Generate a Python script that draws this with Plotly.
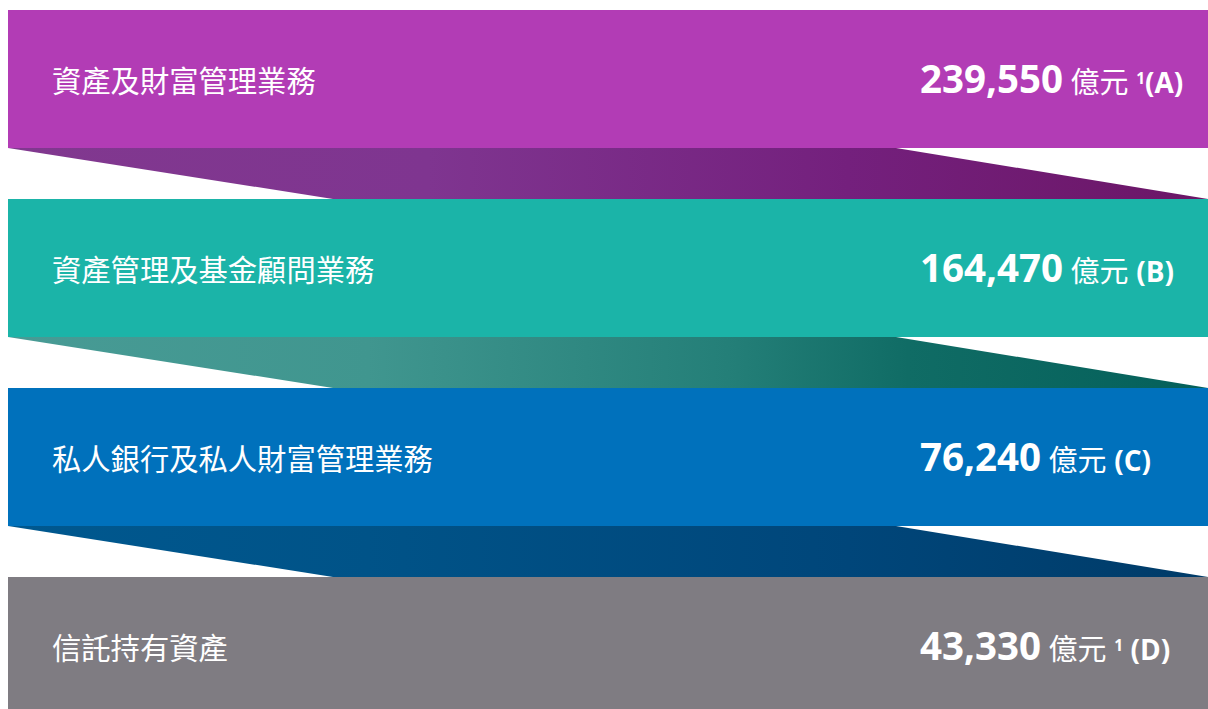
import plotly.graph_objects as go

# ---- data ----
categories = ["資產及財富管理業務", "資產管理及基金顧問業務",
              "私人銀行及私人財富管理業務", "信託持有資產"]
values = [239550, 164470, 76240, 43330]          # 億元
footnotes = ["1", "", "", "1"]
letters = ["A", "B", "C", "D"]
unit = "億元"

# ---- styles ----
band_colors = ["#B23CB5", "#1BB4A8", "#0071BC", "#7F7C82"]
connector_scales = [
    [[0, "#81388F"], [0.35, "#7F3590"], [0.7, "#74207D"], [1, "#6B1666"]],
    [[0, "#489B95"], [0.3, "#40968F"], [0.6, "#247F78"], [0.75, "#106C65"], [1, "#04605A"]],
    [[0, "#00588F"], [0.3, "#005388"], [0.7, "#00467A"], [1, "#003B68"]],
]
W, H = 1208, 709
X0, X1 = 8, 1208
TOP, BAND_H, STEP = 10, 138, 189
SLANT_TOP, SLANT_BOT = 312, 325
FONT = "Open Sans, Noto Sans CJK TC, sans-serif"

fig = go.Figure()

n = len(categories)
for i in range(n):
    y0 = TOP + i * STEP
    y1 = min(y0 + BAND_H, H)
    fig.add_trace(go.Scatter(
        x=[X0, X1, X1, X0, X0], y=[y0, y0, y1, y1, y0],
        fill="toself", fillcolor=band_colors[i], mode="lines",
        line=dict(width=0), hoverinfo="skip", showlegend=False))
    if i < n - 1:
        c0 = y0 + BAND_H
        c1 = TOP + (i + 1) * STEP
        fig.add_trace(go.Scatter(
            x=[X0, X1 - SLANT_TOP, X1, X0 + SLANT_BOT, X0],
            y=[c0, c0, c1, c1, c0],
            fill="toself", mode="lines", line=dict(width=0),
            fillgradient=dict(type="horizontal", colorscale=connector_scales[i],
                              start=X0, stop=X1),
            hoverinfo="skip", showlegend=False))

    yc = y0 + BAND_H / 2
    fig.add_annotation(
        x=50, y=yc, xref="x", yref="y", xanchor="left", yanchor="middle",
        text=categories[i], showarrow=False,
        font=dict(family="Noto Sans CJK TC", size=29.3, color="white"))

    if footnotes[i]:
        after = "" if letters[i] == "A" else "<span style='font-size:29px'> </span>"
        tail = (f"<span style='font-size:29px'>{unit} </span>"
                f"<span style='font-size:22px'><sup><b>{footnotes[i]}</b></sup></span>"
                f"{after}")
    else:
        tail = f"<span style='font-size:29px'>{unit} </span>"
    txt = (f"<b>{values[i]:,}</b><span style='font-size:29px'> </span>{tail}"
           f"<span style='font-size:28px'><b>({letters[i]})</b></span>")
    fig.add_annotation(
        x=918, y=yc - 1, xref="x", yref="y", xanchor="left", yanchor="middle",
        text=txt, showarrow=False,
        font=dict(family=FONT, size=38.5, color="white"))

fig.update_layout(
    width=W, height=H, margin=dict(l=0, r=0, t=0, b=0),
    paper_bgcolor="white", plot_bgcolor="white",
    xaxis=dict(range=[0, W], visible=False, fixedrange=True),
    yaxis=dict(range=[H, 0], visible=False, fixedrange=True),
    showlegend=False)

fig.write_html("out.html", config={"displayModeBar": False})
